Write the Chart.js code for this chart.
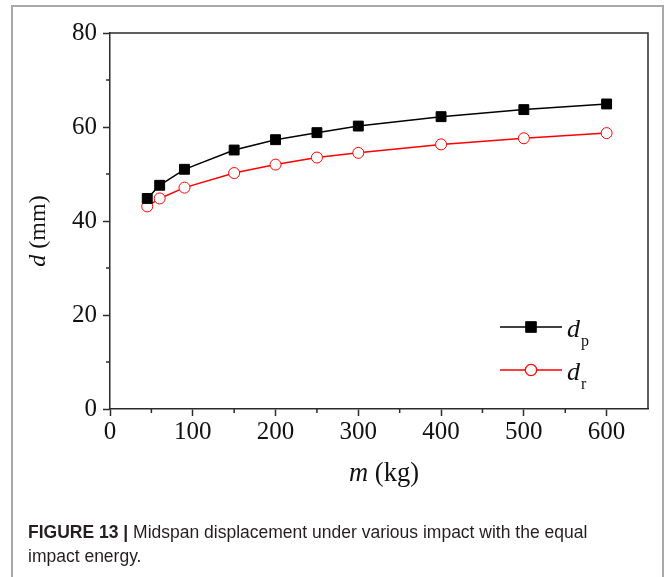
<!DOCTYPE html>
<html>
<head>
<meta charset="utf-8">
<script src="https://cdn.jsdelivr.net/npm/chart.js@4.4.0/dist/chart.umd.min.js"></script>
<style>
  body { margin: 0; background: #fff; }
  #frame {
    position: absolute; left: 11px; top: 5px; width: 649px; height: 620px;
    border: 2px solid #a8a8a8; border-bottom: none;
  }
  #grafico { position: absolute; left: 0; top: 0; }
  .legenda {
    position: absolute; left: 28px; top: 520px;
    font-family: 'Liberation Sans Narrow', 'Liberation Sans', sans-serif;
    font-size: 17.5px; line-height: 24px; color: #231f20;
  }
  .legenda b { font-weight: bold; }
</style>
</head>
<body>
<div id="frame"></div>
<canvas id="grafico" width="665" height="577"></canvas>
<div class="legenda"><b>FIGURE 13 |</b> Midspan displacement under various impact with the equal<br>impact energy.</div>

<script>
// massa (kg) e deslocamento no meio do vão (mm)
const massas = [45, 60, 90, 150, 200, 250, 300, 400, 500, 600];
const dP = [44.8, 47.6, 51.0, 55.1, 57.3, 58.8, 60.2, 62.2, 63.7, 64.9];
const dR = [43.1, 44.8, 47.1, 50.2, 52.0, 53.5, 54.5, 56.3, 57.6, 58.7];

const ticksX = [0, 100, 200, 300, 400, 500, 600];
const ticksY = [0, 20, 40, 60, 80];
const minorX = [50, 150, 250, 350, 450, 550];
const minorY = [10, 30, 50, 70];

const serif = "'Liberation Serif', 'Times New Roman', serif";
const corEixo = '#2b2b2b';

// caixa em volta da área do gráfico + ticks menores
const molduraPlugin = {
    id: 'moldura',
    afterDraw(chart) {
        const ctx = chart.ctx;
        const a = chart.chartArea;
        const sx = chart.scales.x, sy = chart.scales.y;
        ctx.save();
        ctx.strokeStyle = corEixo;
        ctx.lineWidth = 1.5;
        ctx.beginPath();
        ctx.moveTo(a.left, a.top);
        ctx.lineTo(a.right, a.top);
        ctx.lineTo(a.right, a.bottom);
        ctx.stroke();

        ctx.beginPath();
        minorX.forEach(v => {
            const px = sx.getPixelForValue(v);
            ctx.moveTo(px, a.bottom);
            ctx.lineTo(px, a.bottom + 4);
        });
        minorY.forEach(v => {
            const py = sy.getPixelForValue(v);
            ctx.moveTo(a.left, py);
            ctx.lineTo(a.left - 4, py);
        });
        ctx.stroke();
        ctx.restore();
    }
};

// títulos dos eixos com a variável em itálico
function textoMisto(ctx, partes, x, y) {
    let total = 0;
    partes.forEach(p => { ctx.font = p.font; total += ctx.measureText(p.t).width; });
    let cx = x - total / 2;
    partes.forEach(p => {
        ctx.font = p.font;
        ctx.fillText(p.t, cx, y);
        cx += ctx.measureText(p.t).width;
    });
}

const titulosPlugin = {
    id: 'titulos',
    afterDraw(chart) {
        const ctx = chart.ctx;
        const a = chart.chartArea;
        ctx.save();
        ctx.fillStyle = '#111';
        ctx.textBaseline = 'alphabetic';
        ctx.textAlign = 'left';

        textoMisto(ctx, [
            { t: 'm', font: 'italic 26.5px ' + serif },
            { t: ' (kg)', font: '26.5px ' + serif }
        ], (a.left + a.right) / 2 + 5, 481);

        ctx.translate(45, 231);
        ctx.rotate(-Math.PI / 2);
        textoMisto(ctx, [
            { t: 'd', font: 'italic 24px ' + serif },
            { t: ' (mm)', font: '24px ' + serif }
        ], 0, 0);
        ctx.restore();
    }
};

// legenda com subscrito, desenhada a partir dos datasets
const legendaPlugin = {
    id: 'legendaSub',
    afterDraw(chart) {
        const ctx = chart.ctx;
        const subs = ['p', 'r'];
        ctx.save();
        chart.data.datasets.forEach((ds, i) => {
            const y = 327 + i * 43;
            ctx.strokeStyle = ds.borderColor;
            ctx.lineWidth = ds.borderWidth;
            ctx.beginPath();
            ctx.moveTo(500, y);
            ctx.lineTo(562, y);
            ctx.stroke();
            Chart.helpers.drawPoint(ctx, {
                pointStyle: ds.pointStyle,
                radius: ds.pointRadius,
                rotation: 0,
                borderWidth: ds.pointBorderWidth
            }, 531, y);
            ctx.fillStyle = ds.pointBackgroundColor;
            ctx.strokeStyle = ds.pointBorderColor;
            ctx.lineWidth = ds.pointBorderWidth;
            ctx.fill();
            ctx.stroke();

            ctx.fillStyle = '#111';
            ctx.textBaseline = 'alphabetic';
            ctx.textAlign = 'left';
            ctx.font = 'italic 26px ' + serif;
            ctx.fillText('d', 567, y + 10);
            ctx.font = '16px ' + serif;
            ctx.fillText(subs[i], 581, y + 19);
        });
        ctx.restore();
    }
};

const data = {
    datasets: [{
        label: 'dp',
        data: massas.map((m, i) => ({ x: m, y: dP[i] })),
        borderColor: '#000000',
        borderWidth: 1.5,
        pointStyle: 'rect',
        pointRadius: 7,
        pointBackgroundColor: '#000000',
        pointBorderColor: '#000000',
        pointBorderWidth: 1,
        tension: 0
    }, {
        label: 'dr',
        data: massas.map((m, i) => ({ x: m, y: dR[i] })),
        borderColor: '#ff0000',
        borderWidth: 1.5,
        pointStyle: 'circle',
        pointRadius: 5.5,
        pointBackgroundColor: '#ffffff',
        pointBorderColor: '#ff0000',
        pointBorderWidth: 1,
        tension: 0
    }]
};

const config = {
    type: 'line',
    data: data,
    options: {
        responsive: false,
        animation: false,
        events: [],
        layout: { padding: { left: 0, top: 33, right: 17, bottom: 0 } },
        plugins: {
            legend: { display: false },
            tooltip: { enabled: false }
        },
        scales: {
            x: {
                type: 'linear',
                min: 0,
                max: 650,
                afterBuildTicks: s => { s.ticks = ticksX.map(v => ({ value: v })); },
                afterFit: s => { s.height = 577 - 409; },
                grid: {
                    drawOnChartArea: false,
                    tickLength: 7,
                    tickWidth: 1.5,
                    tickColor: corEixo
                },
                border: { color: corEixo, width: 1.5 },
                ticks: {
                    color: '#111',
                    padding: 1,
                    maxRotation: 0,
                    font: { family: serif, size: 25 }
                }
            },
            y: {
                min: 0,
                max: 80,
                afterBuildTicks: s => { s.ticks = ticksY.map(v => ({ value: v })); },
                afterFit: s => { s.width = 110; },
                grid: {
                    drawOnChartArea: false,
                    tickLength: 7,
                    tickWidth: 1.5,
                    tickColor: corEixo
                },
                border: { color: corEixo, width: 1.5 },
                ticks: {
                    color: '#111',
                    padding: 6,
                    font: { family: serif, size: 25 }
                }
            }
        }
    },
    plugins: [molduraPlugin, titulosPlugin, legendaPlugin]
};

const ctx = document.getElementById('grafico').getContext('2d');
const grafico = new Chart(ctx, config);
</script>
</body>
</html>
